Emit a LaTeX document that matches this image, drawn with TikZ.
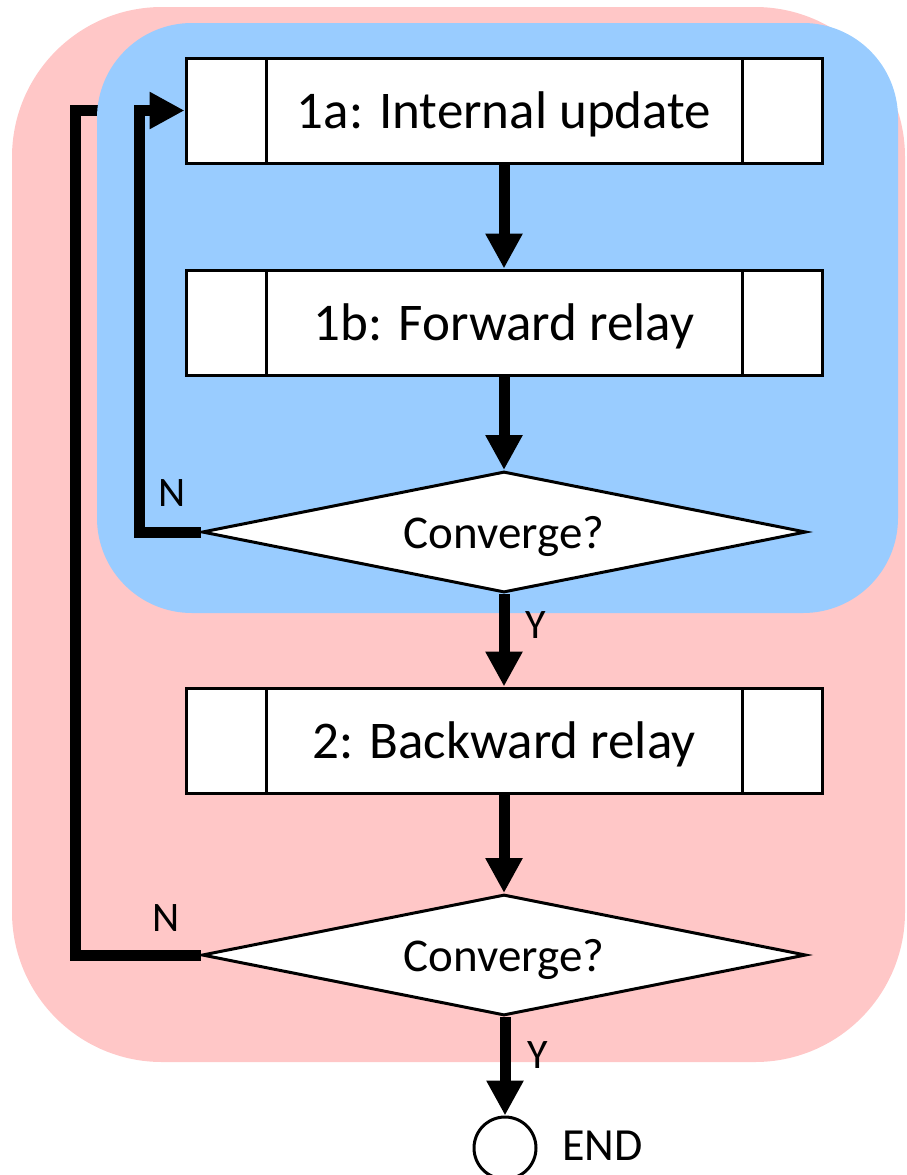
\documentclass[tikz,border=0pt]{standalone}
\usepackage{fontspec}
\setmainfont{Carlito}
\usetikzlibrary{shapes.geometric,arrows.meta}

\definecolor{outerbg}{RGB}{255,199,199}
\definecolor{innerbg}{RGB}{153,204,255}

\tikzset{
  process/.style={draw, line width=3pt, fill=white, inner sep=0pt,
    minimum width=636pt, minimum height=105pt, text depth=0pt,
    font=\fontsize{53}{60}\selectfont,
    path picture={
      \draw[line width=3pt]
        ([xshift=80pt]path picture bounding box.north west) --
        ([xshift=80pt]path picture bounding box.south west)
        ([xshift=-80pt]path picture bounding box.north east) --
        ([xshift=-80pt]path picture bounding box.south east);
    }},
  decision/.style={diamond, draw, line width=3pt, fill=white, inner sep=0pt,
    aspect=5, minimum width=604pt, minimum height=121pt, text depth=0pt,
    font=\fontsize{47}{54}\selectfont},
  terminal/.style={circle, draw, line width=3pt, fill=white,
    minimum size=62pt, inner sep=0pt},
  flow/.style={line width=11pt,
    -{Triangle[length=35pt,width=35pt]}},
  loopline/.style={line width=11pt},
  lbl/.style={font=\fontsize{42}{48}\selectfont, inner sep=0pt},
}

\begin{document}
\begin{tikzpicture}[x=1pt,y=-1pt]
  \useasboundingbox (0,0) rectangle (906,1175);

  % outer loop region
  \fill[outerbg, rounded corners=150pt] (12,7) rectangle (905,1062);

  % nodes
  \node[process] (upd) at (504,110.5) {1a: Internal update};
  \node[process] (fwd) at (504,322.5) {1b: Forward relay};
  \node[decision] (c1) at (504,532) {Converge?};
  \node[process] (bwd) at (504,740.5) {2: Backward relay};
  \node[decision] (c2) at (504,955) {Converge?};
  \node[terminal] (end) at (505,1148) {};
  \node[lbl, font=\fontsize{46}{52}\selectfont, anchor=west] (endlbl) at (562,1146) {END};

  % outer feedback (passes under the inner region)
  \coordinate (o1) at (75,955);
  \draw[loopline] (c2.west) -- (o1) |- (upd.west);

  % inner loop region
  \fill[innerbg, rounded corners=95pt] (97,23) rectangle (898,613);

  % redraw the nodes inside the inner region on top
  \node[process] at (upd) {1a: Internal update};
  \node[process] at (fwd) {1b: Forward relay};
  \node[decision] at (c1) {Converge?};

  % inner feedback
  \coordinate (i1) at (139,532);
  \draw[flow] (c1.west) -- (i1) |- (upd.west);

  % main flow
  \draw[flow] (upd.south) -- (fwd.north);
  \draw[flow] (fwd.south) -- (c1.north);
  \draw[flow] (c1.south) -- (bwd.north);
  \draw[flow] (bwd.south) -- (c2.north);
  \draw[flow] (c2.south -| end.north) -- (end.north);

  % branch labels
  \node[lbl] (n1) at (172,493) {N};
  \node[lbl] (y1) at (536,625) {Y};
  \node[lbl] (n2) at (166,918) {N};
  \node[lbl] (y2) at (538,1055) {Y};
\end{tikzpicture}
\end{document}
